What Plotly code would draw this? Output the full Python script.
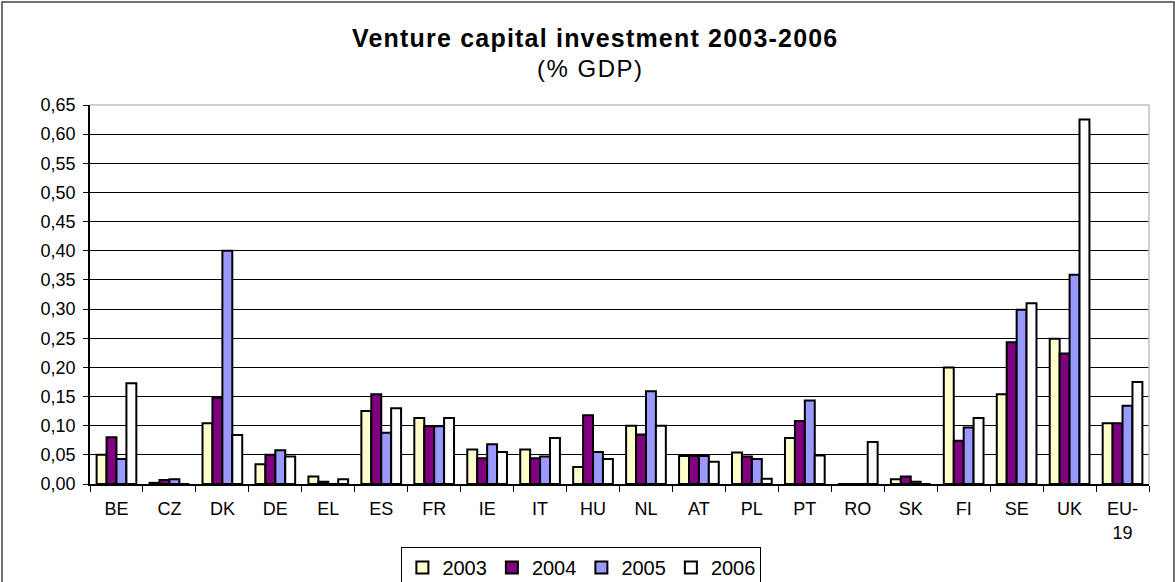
import plotly.graph_objects as go

countries = ["BE", "CZ", "DK", "DE", "EL", "ES", "FR", "IE", "IT", "HU", "NL", "AT",
             "PL", "PT", "RO", "SK", "FI", "SE", "UK", "EU-<br>19"]
v2003 = [0.050, 0.002, 0.104, 0.034, 0.013, 0.125, 0.113, 0.059, 0.059, 0.029, 0.100, 0.048,
         0.054, 0.079, 0.000, 0.008, 0.200, 0.154, 0.249, 0.104]
v2004 = [0.080, 0.007, 0.148, 0.050, 0.004, 0.154, 0.099, 0.044, 0.044, 0.118, 0.085, 0.048,
         0.047, 0.108, 0.000, 0.013, 0.074, 0.243, 0.224, 0.104]
v2005 = [0.043, 0.008, 0.400, 0.058, 0.000, 0.088, 0.099, 0.068, 0.047, 0.055, 0.159, 0.048,
         0.043, 0.143, 0.000, 0.004, 0.097, 0.299, 0.359, 0.134]
v2006 = [0.173, 0.000, 0.084, 0.047, 0.008, 0.130, 0.113, 0.055, 0.079, 0.043, 0.100, 0.038,
         0.009, 0.049, 0.072, 0.000, 0.113, 0.310, 0.625, 0.175]
years = ["2003", "2004", "2005", "2006"]
colors = ["#FFFFCC", "#800080", "#9999FF", "#FFFFFF"]
yticks = [round(i * 0.05, 2) for i in range(14)]

fig = go.Figure()
for name, vals, col in zip(years, [v2003, v2004, v2005, v2006], colors):
    fig.add_trace(go.Bar(x=countries, y=vals, name=name,
                         marker=dict(color=col, line=dict(color="black", width=2))))

font = "Liberation Sans, Arial, sans-serif"
fig.update_layout(
    width=1175, height=582,
    paper_bgcolor="white", plot_bgcolor="white",
    margin=dict(l=90, r=26, t=105, b=98, autoexpand=False),
    barmode="group", bargap=0.25, bargroupgap=0,
    separators=", ",
    font=dict(family=font, size=18, color="black"),
    showlegend=True,
    legend=dict(orientation="h", x=0.464, xanchor="center", y=-0.166, yanchor="top",
                bordercolor="black", borderwidth=1, font=dict(size=20),
                traceorder="normal", itemwidth=30, tracegroupgap=0),
    annotations=[
        dict(text="<span style='letter-spacing:1.2px'><b>Venture capital investment 2003-2006</b></span>",
             xref="paper", yref="paper",
             x=0.477, y=1.178, xanchor="center", yanchor="middle", showarrow=False,
             font=dict(size=25, family=font)),
        dict(text="<span style='letter-spacing:1.5px'>(% GDP)</span>", xref="paper", yref="paper",
             x=0.473, y=1.095, xanchor="center", yanchor="middle", showarrow=False,
             font=dict(size=24, family=font)),
    ],
    shapes=[dict(type="rect", xref="paper", yref="paper", x0=-0.0831, x1=1.0236,
                 y0=-0.28, y1=1.272, line=dict(color="#444444", width=1.5))],
)
fig.update_yaxes(range=[0, 0.65], tickvals=yticks, tickformat=".2f",
                 showgrid=True, gridcolor="black", gridwidth=1,
                 showline=True, linecolor="black", linewidth=1.5,
                 ticks="outside", ticklen=5, tickcolor="black", zeroline=False,
                 ticklabelstandoff=4)
fig.update_xaxes(showline=True, linecolor="black", linewidth=1.5, mirror=False,
                 ticks="outside", tickson="boundaries", ticklen=6, tickcolor="black",
                 showgrid=False, tickangle=0, ticklabelstandoff=8)
fig.add_shape(type="line", xref="paper", yref="paper", x0=0, x1=1, y0=1, y1=1,
              line=dict(color="#C0C0C0", width=1.5))
fig.add_shape(type="line", xref="paper", yref="paper", x0=1, x1=1, y0=0, y1=1,
              line=dict(color="#C0C0C0", width=1.5))

fig.write_html("out.html", config={"displayModeBar": False},
               post_script="document.body.style.margin='0';")
